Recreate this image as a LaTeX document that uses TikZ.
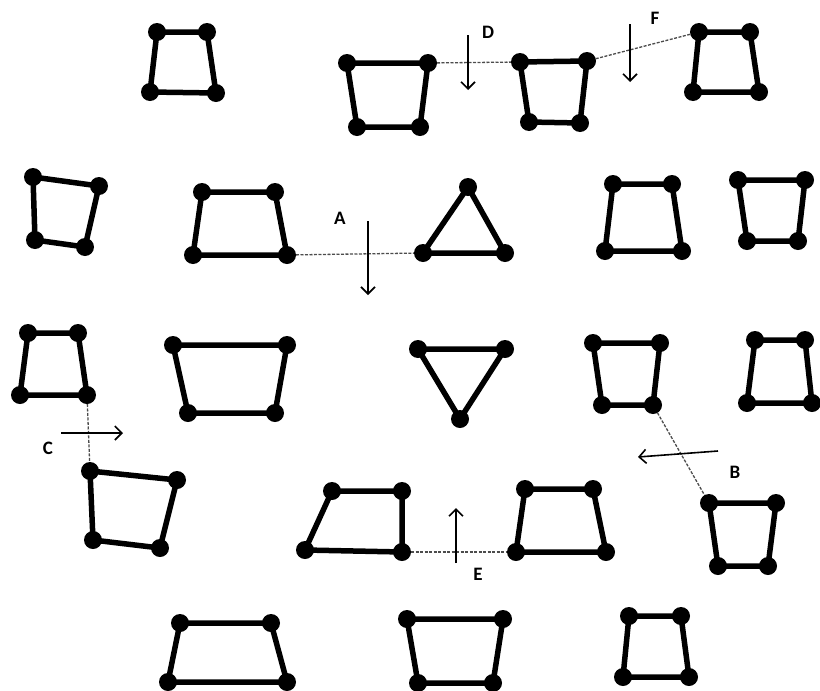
\documentclass[tikz,border=0pt]{standalone}
\usepackage{fontspec}
\setmainfont{Carlito}
\usetikzlibrary{arrows.meta}
\newcommand\mkquad[5]{%
  \coordinate (#1a) at (#2);
  \coordinate (#1b) at (#3);
  \coordinate (#1c) at (#4);
  \coordinate (#1d) at (#5);
  \draw[edge] (#1a)--(#1b)--(#1c)--(#1d)--cycle;}
\newcommand\mktri[4]{%
  \coordinate (#1a) at (#2);
  \coordinate (#1b) at (#3);
  \coordinate (#1c) at (#4);
  \draw[edge] (#1a)--(#1b)--(#1c)--cycle;}
\begin{document}
\begin{tikzpicture}[x=1pt,y=-1pt,
  vtx/.style={circle,fill=black,inner sep=0pt,minimum size=18pt},
  edge/.style={line width=5.5pt,line join=round},
  link/.style={line width=1.3pt,dash pattern=on 3pt off 1.5pt,black!70},
  move/.style={line width=1.6pt,-{Straight Barb[length=7pt,width=14pt]}},
  lbl/.style={font=\bfseries\fontsize{19}{19}\selectfont,inner sep=0pt}]
\useasboundingbox (0,0) rectangle (820,691);
\fill[white] (0,0) rectangle (820,691);
% shapes
\mkquad{s1}{157,32}{207,32}{216,93}{150,92}
\mkquad{s2}{347,63}{428,63}{420,127}{357,127}
\mkquad{s3}{520,62}{587,61}{580,123}{529,122}
\mkquad{s4}{699,32}{750,32}{759,92}{693,92}
\mkquad{s5}{33,177}{99,186}{85,247}{35,240}
\mkquad{s6}{202,192}{275,192}{287,255}{193,255}
\mktri{t1}{468,187}{505,253}{423,253}
\mkquad{s7}{613,184}{672,184}{682,251}{605,251}
\mkquad{s8}{738,180}{805,180}{798,241}{747,241}
\mkquad{s9}{28,333}{78,333}{87,395}{20,395}
\mkquad{s10}{173,345}{287,345}{275,413}{188,413}
\mktri{t2}{418,349}{505,349}{460,419}
\mkquad{s11}{593,343}{660,343}{653,405}{602,405}
\mkquad{s12}{755,340}{805,340}{812,403}{747,403}
\mkquad{s13}{90,471}{177,480}{160,548}{93,540}
\mkquad{s14}{709,503}{776,503}{768,566}{718,566}
\mkquad{s15}{332,491}{402,491}{402,552}{305,550}
\mkquad{s16}{525,489}{593,489}{606,552}{516,552}
\mkquad{s17}{180,623}{271,623}{287,682}{168,682}
\mkquad{s18}{407,619}{503,619}{493,683}{418,683}
\mkquad{s19}{629,616}{681,616}{689,677}{623,677}
% dashed links
\draw[link] (s2b) -- (s3a);
\draw[link] (s3b) -- (s4a);
\draw[link] (s6c) -- (t1c);
\draw[link] (s9c) -- (s13a);
\draw[link] (s11c) -- (s14a);
\draw[link] (s15c) -- (s16d);
% vertices
\foreach \s in {s1,s2,s3,s4,s5,s6,s7,s8,s9,s10,s11,s12,s13,s14,s15,s16,s17,s18,s19}
  \foreach \v in {a,b,c,d}
    \node[vtx] (\s\v-dot) at (\s\v) {};
\foreach \s in {t1,t2}
  \foreach \v in {a,b,c}
    \node[vtx] (\s\v-dot) at (\s\v) {};
% arrows
\coordinate (aA1) at (368,221); \coordinate (aA2) at (368,295);
\coordinate (aD1) at (468,35);  \coordinate (aD2) at (468,90);
\coordinate (aF1) at (630,24);  \coordinate (aF2) at (630,82);
\coordinate (aC1) at (61,433);  \coordinate (aC2) at (123,433);
\coordinate (aB1) at (718,451); \coordinate (aB2) at (638,457);
\coordinate (aE1) at (456,563); \coordinate (aE2) at (456,508);
\draw[move] (aA1) -- (aA2);
\draw[move] (aD1) -- (aD2);
\draw[move] (aF1) -- (aF2);
\draw[move] (aC1) -- (aC2);
\draw[move] (aB1) -- (aB2);
\draw[move] (aE1) -- (aE2);
% labels
\node[lbl] (lA) at (340,218) {A};
\node[lbl] (lD) at (488,32) {D};
\node[lbl] (lF) at (655,18) {F};
\node[lbl] (lC) at (48,448) {C};
\node[lbl] (lB) at (735,472) {B};
\node[lbl] (lE) at (478,574) {E};
\end{tikzpicture}
\end{document}
